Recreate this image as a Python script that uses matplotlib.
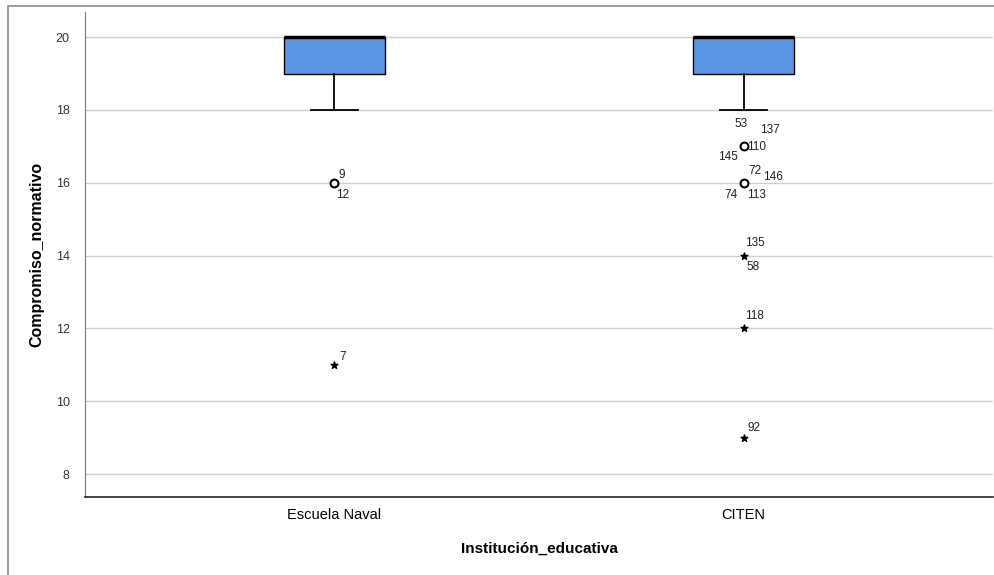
import matplotlib
matplotlib.use('agg')
import matplotlib.pyplot as plt
from matplotlib.patches import Rectangle

plt.rcParams['font.family'] = ['Liberation Sans', 'DejaVu Sans']

# datos
grupos = ['Escuela Naval', 'CITEN']
q1 = [19, 19]
mediana = [20, 20]
q3 = [20, 20]
bigote_inf = [18, 18]
bigote_sup = [20, 20]

# atipicos (circulo) y extremos (estrella): grupo, valor
atip_grupo = [0, 1, 1]
atip_valor = [16, 17, 16]
ext_grupo = [0, 1, 1, 1]
ext_valor = [11, 14, 12, 9]

# etiquetas de caso: grupo, valor, texto, desplazamiento (px)
etq_grupo = [0, 0, 0, 1, 1, 1, 1, 1, 1, 1, 1, 1, 1, 1, 1]
etq_valor = [16, 16, 11, 17, 17, 17, 17, 16, 16, 16, 16, 14, 14, 12, 9]
etq_texto = ['9', '12', '7', '53', '137', '110', '145', '72', '146', '74', '113',
             '135', '58', '118', '92']
etq_dx = [4, 2, 5, -9, 17, 4, -25, 5, 20, -19, 4, 2, 3, 2, 4]
etq_dy = [8, -12, 8, 22, 16, -1, -11, 12, 6, -12, -12, 13, -11, 12, 10]

fig = plt.figure(figsize=(9.95, 5.75), dpi=100)
fig.patches.append(Rectangle((8 / 995, -0.1), 1.2, (575 - 6) / 575 + 0.1,
                             transform=fig.transFigure, fill=False,
                             edgecolor='#8c8c8c', lw=1.2))
ax = fig.add_axes([85 / 995, 78 / 575, 908 / 995, 485 / 575])

stats = []
for i in range(len(grupos)):
    stats.append({'med': mediana[i], 'q1': q1[i], 'q3': q3[i],
                  'whislo': bigote_inf[i], 'whishi': bigote_sup[i], 'fliers': []})

ax.bxp(stats, positions=range(len(grupos)), widths=0.245, patch_artist=True,
       showfliers=False,
       boxprops=dict(facecolor='#5a96e3', edgecolor='black', lw=1),
       medianprops=dict(color='black', lw=2.5),
       whiskerprops=dict(color='black', lw=1.3),
       capprops=dict(color='black', lw=1.3), capwidths=0.115)

ax.scatter(atip_grupo, atip_valor, marker='o', s=32, facecolor='white',
           edgecolor='black', lw=1.5, zorder=3)
ax.scatter(ext_grupo, ext_valor, marker='*', s=26, color='black', zorder=3)

for g, v, t, dx, dy in zip(etq_grupo, etq_valor, etq_texto, etq_dx, etq_dy):
    ax.annotate(t, (g, v), xytext=(dx, dy), textcoords='offset pixels',
                fontsize=8.5, ha='left', va='center', color='#222222')

ax.set_xlim(-0.61, 1.61)
ax.set_ylim(7.37, 20.69)
ax.set_yticks([8, 10, 12, 14, 16, 18, 20])
ax.set_xticks(range(len(grupos)))
ax.set_xticklabels(grupos, fontsize=10.5)
ax.yaxis.grid(True, color='#cfcfcf', lw=1)
ax.set_axisbelow(True)
ax.tick_params(axis='y', length=0, labelsize=9, pad=11, labelcolor='#333333')
ax.tick_params(axis='x', length=0, pad=8)

for lado in ['top', 'right']:
    ax.spines[lado].set_visible(False)
ax.spines['left'].set_color('#777777')
ax.spines['bottom'].set_color('#222222')
ax.spines['bottom'].set_linewidth(1.2)

ax.set_ylabel('Compromiso_normativo', fontsize=11.5, fontweight='bold', labelpad=8)
ax.set_xlabel('Institución_educativa', fontsize=11, fontweight='bold', labelpad=14)

plt.savefig('out.png', dpi=100)
